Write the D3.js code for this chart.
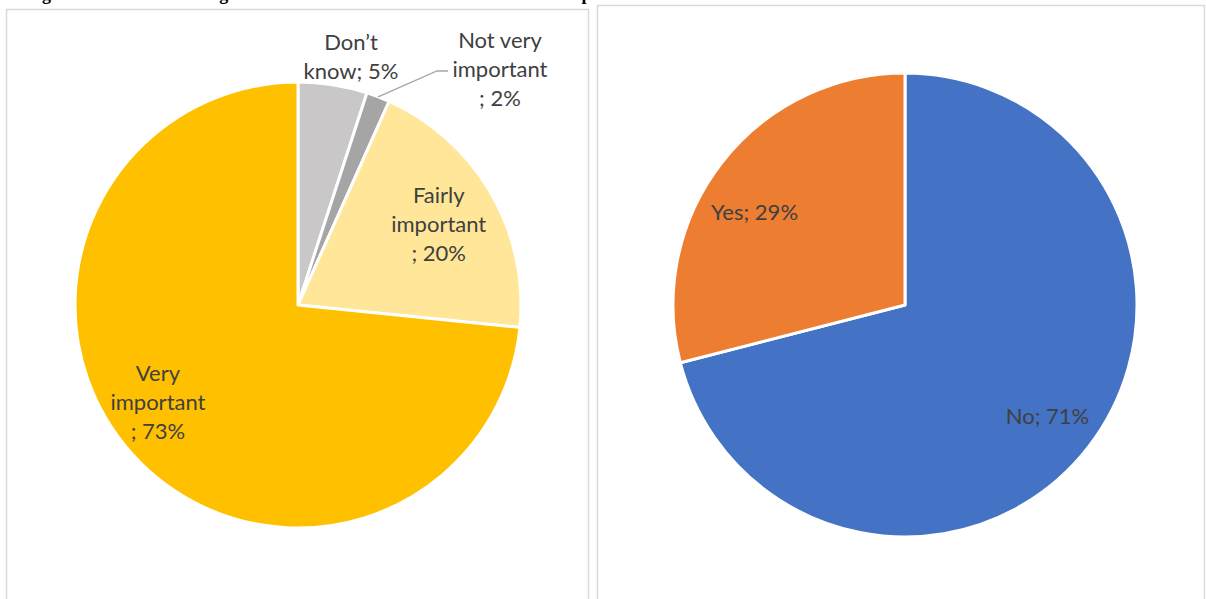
<!DOCTYPE html>
<html>
<head>
<meta charset="utf-8">
<script src="https://cdn.jsdelivr.net/npm/d3@7"></script>
<style>
  body { margin: 0; background: #fff; }
  svg { display: block; }
</style>
</head>
<body>
<svg width="1206" height="599"></svg>
<script>
// left pie: importance rating
const importanceCats = ["Don’t know", "Not very important", "Fairly important", "Very important"];
const importanceVals = [5.0, 1.7, 19.9, 73.4];
const importanceColors = ["#C9C7C7", "#A5A5A5", "#FFE699", "#FFC000"];
const importanceBreaks = ["Don’t|know", "Not very|important|", "Fairly|important|", "Very|important|"];

// right pie: yes / no
const answerCats = ["No", "Yes"];
const answerVals = [71, 29];
const answerColors = ["#4472C4", "#ED7D31"];
const answerBreaks = ["No", "Yes"];

const svg = d3.select("svg");

// clipped title, only descenders show at the top edge
svg.append("text")
    .attr("x", 26)
    .attr("y", -0.5)
    .attr("font-family", "Liberation Serif")
    .attr("font-weight", "bold")
    .attr("font-size", "18px")
    .attr("fill", "#000")
    .text("Figure 16: Overall scoring of the issue and whether the incidents were reported");

// panel frames
svg.append("rect")
    .attr("x", 6.5).attr("y", 9.5)
    .attr("width", 582).attr("height", 620)
    .attr("fill", "none").attr("stroke", "#D9D9D9").attr("stroke-width", 1.5);

svg.append("rect")
    .attr("x", 597.5).attr("y", 5.5)
    .attr("width", 607).attr("height", 620)
    .attr("fill", "none").attr("stroke", "#D9D9D9").attr("stroke-width", 1.5);

const pie = d3.pie().sort(null).value(d => d.value);

function drawPie(cats, vals, colors, breaks, cx, cy, r, opts) {
    const data = cats.map((c, i) => ({ name: c, value: vals[i], color: colors[i], brk: breaks[i] }));
    const arcs = pie(data);
    const g = svg.append("g").attr("transform", `translate(${cx},${cy})`);

    const arc = d3.arc().innerRadius(0).outerRadius(r);
    const labelArc = d3.arc().innerRadius(r * 0.75).outerRadius(r * 0.75);
    const edgeArc = d3.arc().innerRadius(r).outerRadius(r);

    g.selectAll(".slice")
        .data(arcs)
        .enter().append("path")
        .attr("class", "slice")
        .attr("d", arc)
        .attr("fill", d => d.data.color)
        .attr("stroke", "#fff")
        .attr("stroke-width", 3)
        .attr("stroke-linejoin", "round");

    arcs.forEach(d => {
        const pct = Math.round(d.data.value) + "%";
        // "important|" leaves an empty tail -> "; x%" on its own line
        const lines = d.data.brk.split("|");
        lines[lines.length - 1] += "; " + pct;
        const o = opts[d.data.name] || {};
        let x, y;
        if (o.pos) {
            [x, y] = o.pos;
        } else {
            [x, y] = labelArc.centroid(d);
            x += o.dx || 0;
            y += o.dy || 0;
        }
        const lh = 29;
        const top = y - (lines.length - 1) * lh / 2 + 8;
        const t = g.append("text")
            .attr("text-anchor", "middle")
            .attr("font-family", "Lato")
            .attr("font-size", "22px")
            .attr("fill", "#404040");
        lines.forEach((s, i) => {
            t.append("tspan")
                .attr("x", x)
                .attr("y", top + i * lh)
                .text(s);
        });

        if (o.leader) {
            const [ex, ey] = edgeArc.centroid(d);
            g.append("polyline")
                .attr("points", [[ex, ey], [x - 63, y + 2], [x - 52, y + 2]].map(p => p.join(",")).join(" "))
                .attr("fill", "none")
                .attr("stroke", "#A6A6A6")
                .attr("stroke-width", 1.3);
        }
    });
}

drawPie(importanceCats, importanceVals, importanceColors, importanceBreaks, 298, 305, 223, {
    "Don’t know": { pos: [53, -249] },
    "Not very important": { pos: [202, -236], leader: true },
    "Fairly important": { dx: -4, dy: 3 },
    "Very important": { dx: -16, dy: -15 }
});

drawPie(answerCats, answerVals, answerColors, answerBreaks, 905, 305, 232, {
    "Yes": { dx: -13, dy: 14 },
    "No": { dx: 5, dy: 4 }
});
</script>
</body>
</html>
